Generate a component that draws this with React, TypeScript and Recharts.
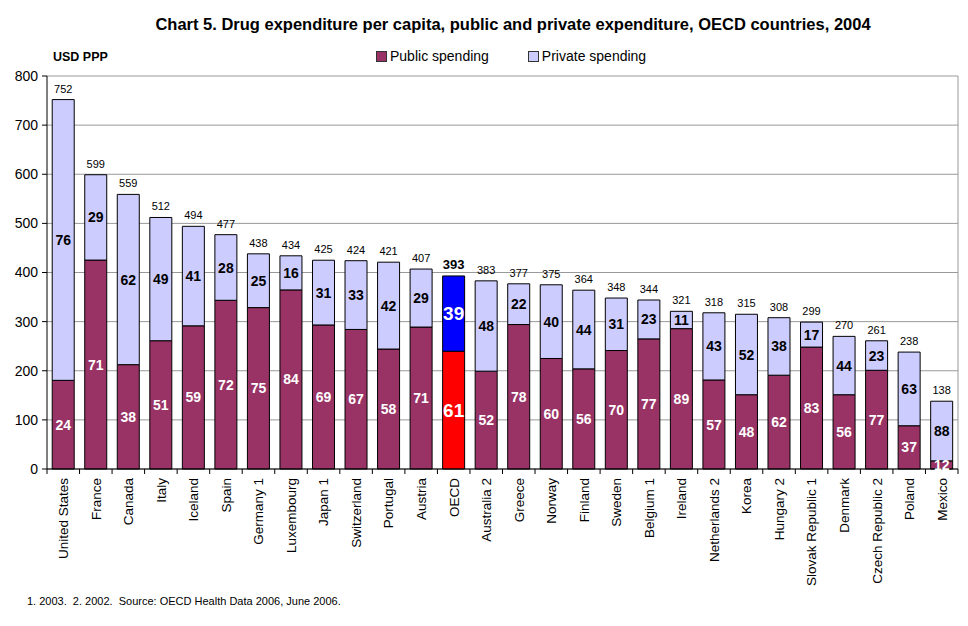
import React from 'react'
import { BarChart, Bar, XAxis, YAxis, CartesianGrid, LabelList, Cell } from 'recharts'

const countries = [
  'United States', 'France', 'Canada', 'Italy', 'Iceland', 'Spain', 'Germany 1', 'Luxembourg',
  'Japan 1', 'Switzerland', 'Portugal', 'Austria', 'OECD', 'Australia 2', 'Greece', 'Norway',
  'Finland', 'Sweden', 'Belgium 1', 'Ireland', 'Netherlands 2', 'Korea', 'Hungary 2',
  'Slovak Republic 1', 'Denmark', 'Czech Republic 2', 'Poland', 'Mexico',
]
const totals = [752, 599, 559, 512, 494, 477, 438, 434, 425, 424, 421, 407, 393, 383, 377, 375, 364, 348, 344, 321, 318, 315, 308, 299, 270, 261, 238, 138]
const publicShare = [24, 71, 38, 51, 59, 72, 75, 84, 69, 67, 58, 71, 61, 52, 78, 60, 56, 70, 77, 89, 57, 48, 62, 83, 56, 77, 37, 12]
const privateShare = [76, 29, 62, 49, 41, 28, 25, 16, 31, 33, 42, 29, 39, 48, 22, 40, 44, 31, 23, 11, 43, 52, 38, 17, 44, 23, 63, 88]
const yTicks = [0, 100, 200, 300, 400, 500, 600, 700, 800]

const PUBLIC = '#993366'
const PRIVATE = '#CCCCFF'
const OECD_PUBLIC = '#FF0000'
const OECD_PRIVATE = '#0000FF'
const FONT = '"Liberation Sans", Arial, sans-serif'

const data = countries.map((country, i) => {
  const share = publicShare[i] + privateShare[i]
  return {
    country,
    total: totals[i],
    pubPct: publicShare[i],
    privPct: privateShare[i],
    public: (totals[i] * publicShare[i]) / share,
    private: (totals[i] * privateShare[i]) / share,
    oecd: country === 'OECD',
  }
})

// values tagged with '*' belong to the OECD average bar
const tag = (key: 'pubPct' | 'privPct' | 'total') => (d: any) => (d.oecd ? `*${d[key]}` : String(d[key]))

function InsideLabel({ x, y, width, height, value, color }: any) {
  const s = String(value)
  const oecd = s.startsWith('*')
  return (
    <text
      x={x + width / 2}
      y={y + height / 2}
      dy="0.36em"
      textAnchor="middle"
      fill={oecd ? '#fff' : color}
      fontWeight="bold"
      fontSize={oecd ? 19 : 14}
      fontFamily={FONT}
    >
      {oecd ? s.slice(1) : s}
    </text>
  )
}

function TotalLabel({ x, y, width, value }: any) {
  const s = String(value)
  const oecd = s.startsWith('*')
  return (
    <text
      x={x + width / 2}
      y={y - 7}
      textAnchor="middle"
      fill="#000"
      fontWeight={oecd ? 'bold' : 'normal'}
      fontSize={oecd ? 13 : 11}
      fontFamily={FONT}
    >
      {oecd ? s.slice(1) : s}
    </text>
  )
}

function CountryTick({ x, y, payload, index }: any) {
  const half = payload?.offset || 16.25
  const last = index === countries.length - 1
  return (
    <g>
      <line x1={x - half} x2={x - half} y1={y} y2={y + 5} stroke="#000" />
      {last && <line x1={x + half} x2={x + half} y1={y} y2={y + 5} stroke="#000" />}
      <text
        x={x}
        y={y + 9}
        dy="0.36em"
        transform={`rotate(-90, ${x}, ${y + 9})`}
        textAnchor="end"
        fill="#000"
        fontSize={13.5}
        fontFamily={FONT}
      >
        {payload.value}
      </text>
    </g>
  )
}

function LegendItem({ color, label }: { color: string; label: string }) {
  return (
    <div style={{ display: 'flex', alignItems: 'center' }}>
      <span style={{ width: 9, height: 9, background: color, border: '1px solid #333', marginRight: 3 }} />
      <span>{label}</span>
    </div>
  )
}

export default function App() {
  return (
    <div style={{ position: 'absolute', left: 0, top: 0, width: 968, height: 626, background: '#fff', fontFamily: FONT, color: '#000' }}>
      <div style={{ position: 'absolute', top: 15, left: 0, width: 1026, textAlign: 'center', fontSize: 16.5, fontWeight: 'bold' }}>
        Chart 5. Drug expenditure per capita, public and private expenditure, OECD countries, 2004
      </div>
      <div style={{ position: 'absolute', top: 48, left: 376, display: 'flex', gap: 39, fontSize: 14 }}>
        <LegendItem color={PUBLIC} label="Public spending" />
        <LegendItem color={PRIVATE} label="Private spending" />
      </div>
      <div style={{ position: 'absolute', top: 50, left: 53, fontSize: 12.5, fontWeight: 'bold' }}>USD PPP</div>
      <div style={{ position: 'absolute', top: 595, left: 27, fontSize: 11 }}>
        1. 2003.&nbsp; 2. 2002.&nbsp; Source: OECD Health Data 2006, June 2006.
      </div>

      <BarChart
        width={968}
        height={626}
        data={data}
        margin={{ top: 76, right: 10, bottom: 7, left: 0 }}
        barCategoryGap="16%"
        style={{ position: 'absolute', left: 0, top: 0 }}
      >
        <CartesianGrid
          stroke="#999"
          vertical
          verticalCoordinatesGenerator={({ offset }: any) => [offset.left + offset.width]}
        />
        <XAxis
          dataKey="country"
          interval={0}
          height={150}
          tickLine={false}
          tickSize={0}
          tickMargin={0}
          axisLine={{ stroke: '#000' }}
          tick={<CountryTick />}
        />
        <YAxis
          width={47}
          domain={[0, 800]}
          ticks={yTicks}
          interval={0}
          tickSize={5}
          tickMargin={4}
          axisLine={{ stroke: '#000' }}
          tickLine={{ stroke: '#000' }}
          tick={{ fill: '#000', fontSize: 14, fontFamily: FONT }}
        />
        <Bar dataKey="public" stackId="a" fill={PUBLIC} stroke="#000" strokeWidth={1} isAnimationActive={false}>
          {data.map((d) => (
            <Cell key={d.country} fill={d.oecd ? OECD_PUBLIC : PUBLIC} />
          ))}
          <LabelList dataKey={tag('pubPct')} content={<InsideLabel color="#fff" />} />
        </Bar>
        <Bar dataKey="private" stackId="a" fill={PRIVATE} stroke="#000" strokeWidth={1} isAnimationActive={false}>
          {data.map((d) => (
            <Cell key={d.country} fill={d.oecd ? OECD_PRIVATE : PRIVATE} />
          ))}
          <LabelList dataKey={tag('privPct')} content={<InsideLabel color="#000" />} />
          <LabelList dataKey={tag('total')} content={<TotalLabel />} />
        </Bar>
      </BarChart>
    </div>
  )
}
